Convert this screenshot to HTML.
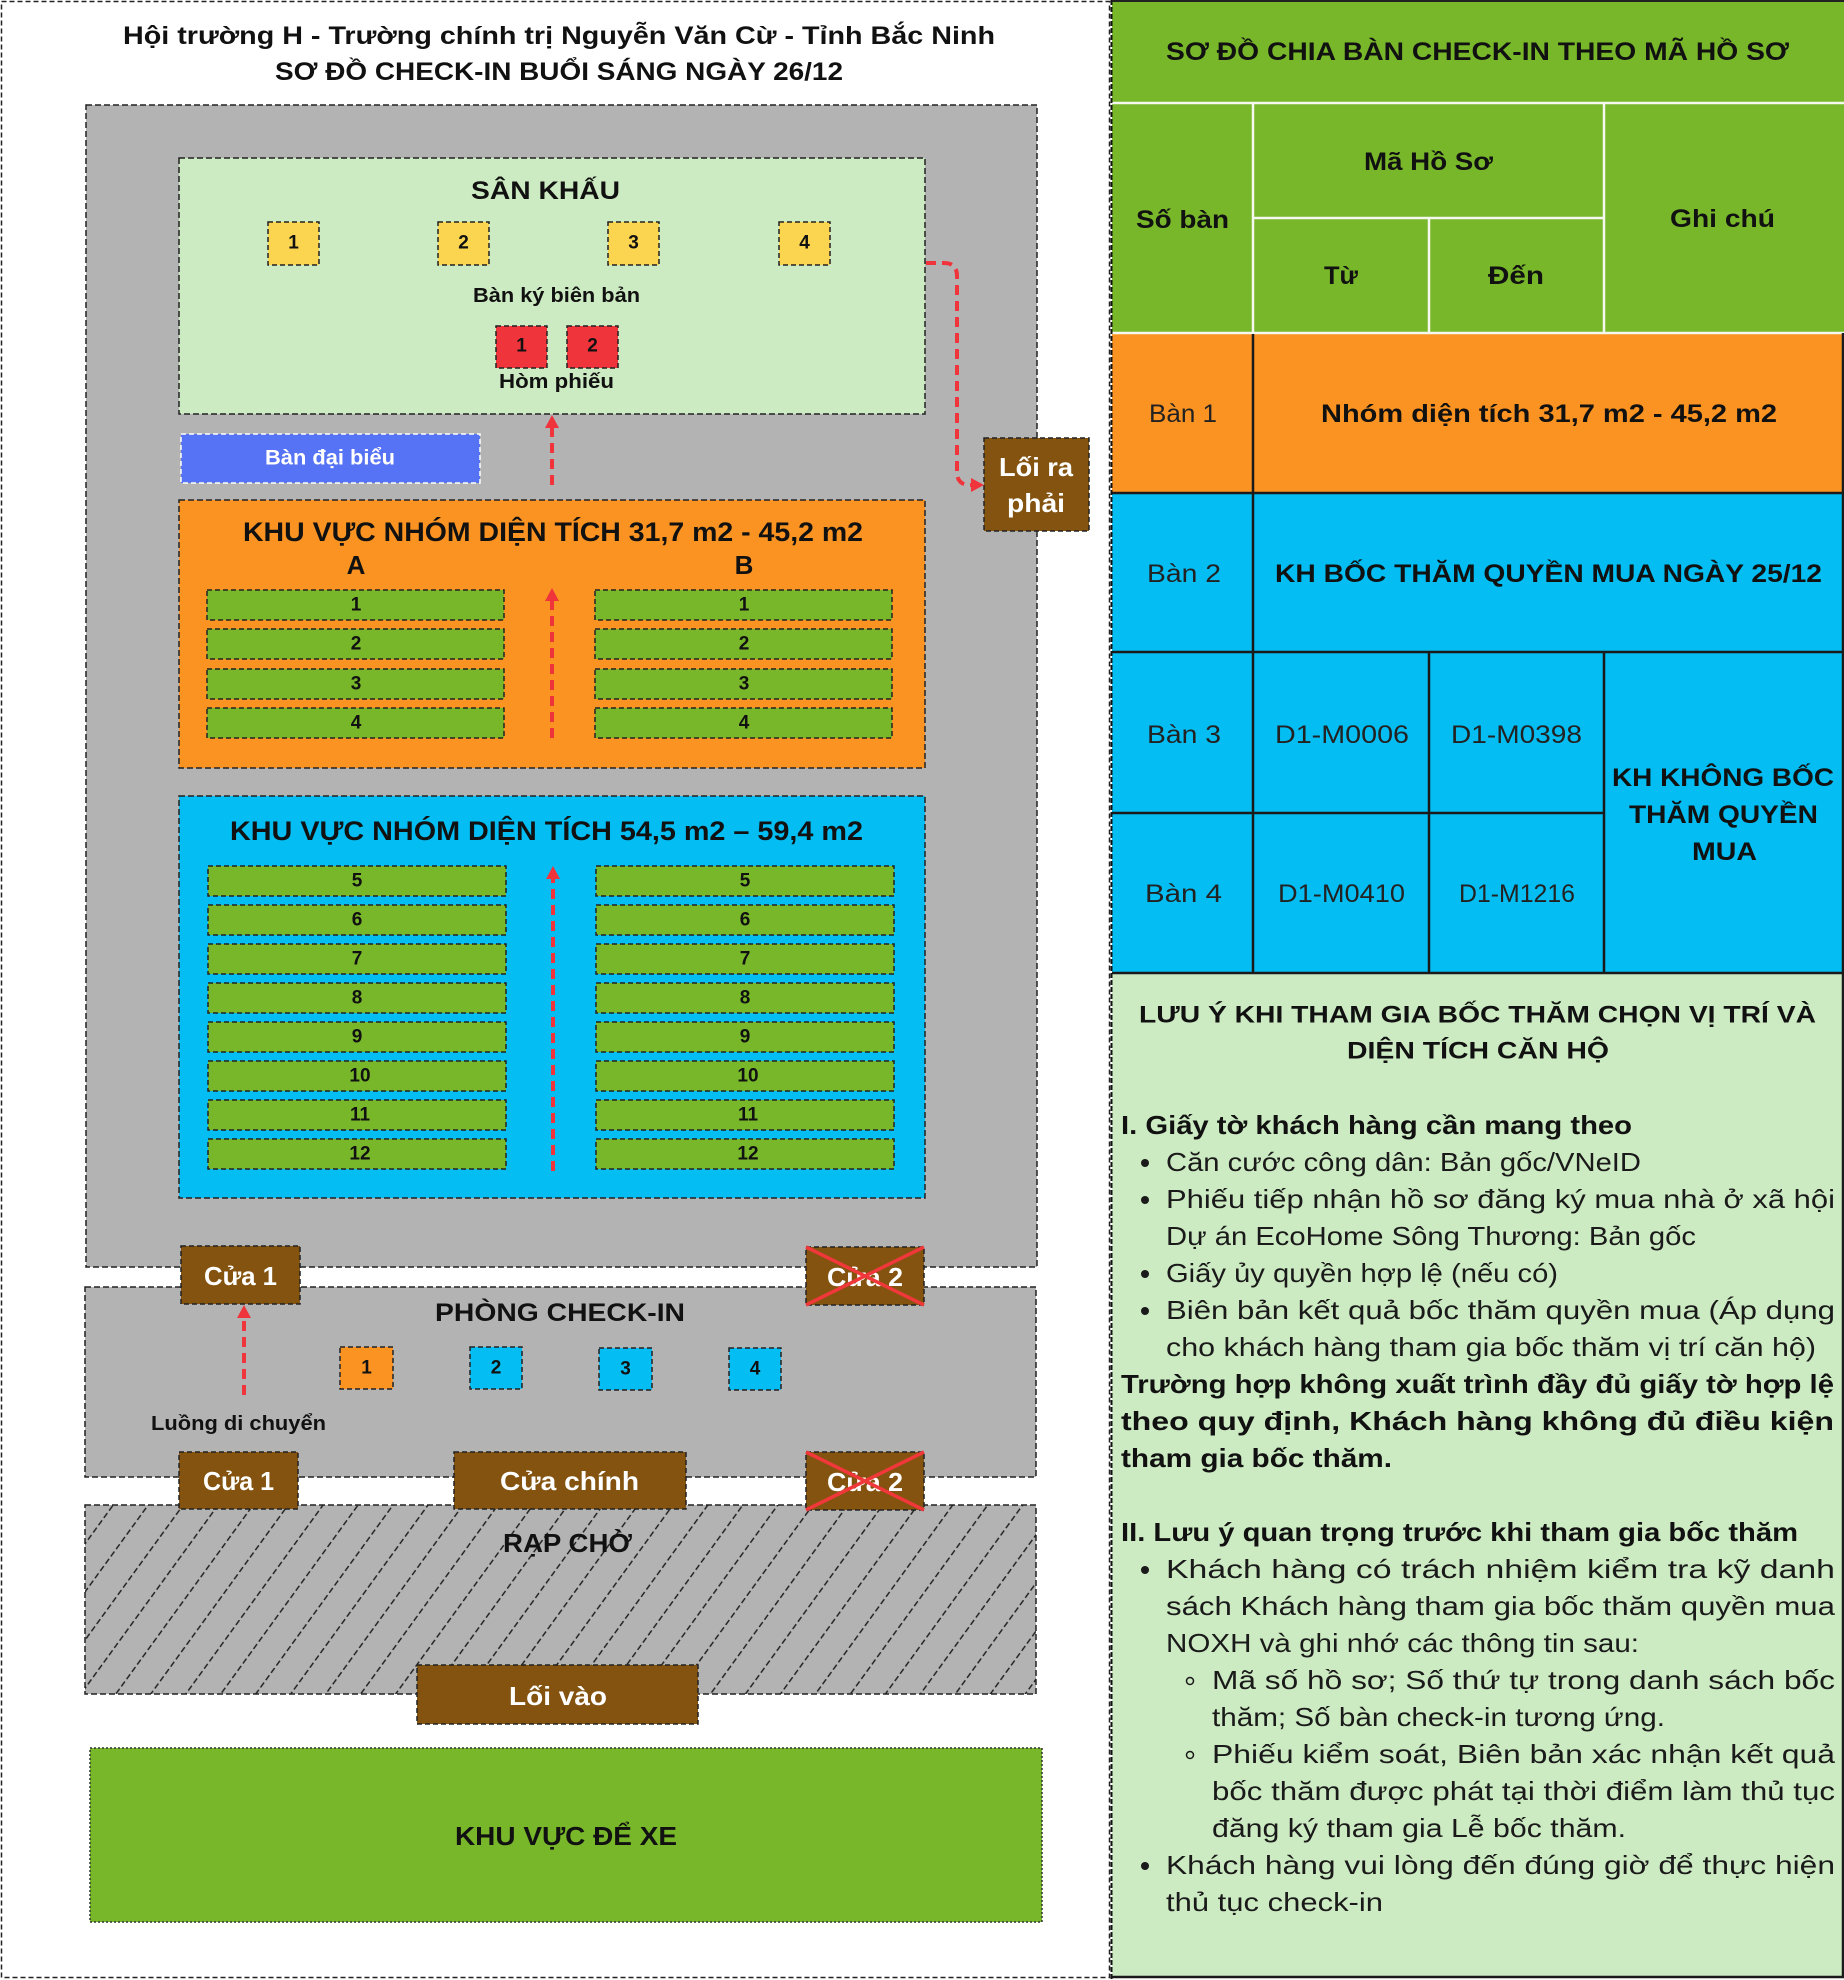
<!DOCTYPE html>
<html><head><meta charset="utf-8"><style>
html,body{margin:0;padding:0;background:#fff;}
svg{display:block;}
text{font-family:"Liberation Sans","DejaVu Sans",sans-serif;}
.b{font-weight:bold;}
</style></head><body>
<svg xmlns="http://www.w3.org/2000/svg" width="1844" height="1980" viewBox="0 0 1844 1980">
<defs>
<pattern id="hatch" patternUnits="userSpaceOnUse" width="28.3" height="18" patternTransform="rotate(36)">
<line x1="14" y1="0" x2="14" y2="18" stroke="#1a1a1a" stroke-width="1.4" stroke-dasharray="6 3"/>
</pattern>
</defs>
<rect x="0" y="0" width="1844" height="1980" fill="#fff"/>
<!-- LEFT PANEL -->
<rect x="1.5" y="1.5" width="1108" height="1976" fill="none" stroke="#222" stroke-width="1.5" stroke-dasharray="5 3"/>
<text class="b" x="123" y="36" font-size="25" dominant-baseline="central" textLength="872" lengthAdjust="spacingAndGlyphs" fill="#111">Hội trường H - Trường chính trị Nguyễn Văn Cừ - Tỉnh Bắc Ninh</text>
<text class="b" x="275" y="72" font-size="25" dominant-baseline="central" textLength="568" lengthAdjust="spacingAndGlyphs" fill="#111">SƠ ĐỒ CHECK-IN BUỔI SÁNG NGÀY 26/12</text>

<!-- Hall -->
<rect x="86" y="105" width="951" height="1162" fill="#b3b3b3" stroke="#222" stroke-width="1.5" stroke-dasharray="6 3"/>
<!-- Stage -->
<rect x="179" y="158" width="746" height="256" fill="#cdebc2" stroke="#222" stroke-width="1.5" stroke-dasharray="6 3"/>
<text class="b" x="471" y="191" font-size="25" dominant-baseline="central" textLength="149" lengthAdjust="spacingAndGlyphs" fill="#111">SÂN KHẤU</text>
<g stroke="#222" stroke-width="1.5" stroke-dasharray="5 3" fill="#fbd54f">
<rect x="268" y="222" width="51" height="43"/>
<rect x="438" y="222" width="51" height="43"/>
<rect x="608" y="222" width="51" height="43"/>
<rect x="779" y="222" width="51" height="43"/>
</g>
<g class="b" font-size="19" text-anchor="middle" dominant-baseline="central" fill="#111">
<text x="293.5" y="243">1</text><text x="463.5" y="243">2</text><text x="633.5" y="243">3</text><text x="804.5" y="243">4</text>
</g>
<text class="b" x="473" y="296" font-size="20" dominant-baseline="central" textLength="167" lengthAdjust="spacingAndGlyphs" fill="#111">Bàn ký biên bản</text>
<g stroke="#222" stroke-width="1.5" stroke-dasharray="5 3" fill="#f0343b">
<rect x="496" y="326" width="51" height="42"/>
<rect x="567" y="326" width="51" height="42"/>
</g>
<g class="b" font-size="19" text-anchor="middle" dominant-baseline="central" fill="#111">
<text x="521.5" y="346">1</text><text x="592.5" y="346">2</text>
</g>
<text class="b" x="499" y="382" font-size="20" dominant-baseline="central" textLength="115" lengthAdjust="spacingAndGlyphs" fill="#111">Hòm phiếu</text>

<!-- Ban dai bieu -->
<rect x="181" y="434" width="299" height="49" fill="#5672f5" stroke="#fff" stroke-width="1.5" stroke-dasharray="5 3"/>
<text class="b" x="265" y="458" font-size="21" dominant-baseline="central" textLength="130" lengthAdjust="spacingAndGlyphs" fill="#fff">Bàn đại biểu</text>

<!-- Loi ra phai -->
<rect x="984" y="438" width="105" height="93" fill="#83530f" stroke="#222" stroke-width="1.5" stroke-dasharray="5 3"/>
<text class="b" x="999" y="467" font-size="26" dominant-baseline="central" textLength="74" lengthAdjust="spacingAndGlyphs" fill="#fff">Lối ra</text>
<text class="b" x="1007" y="503" font-size="26" dominant-baseline="central" textLength="58" lengthAdjust="spacingAndGlyphs" fill="#fff">phải</text>

<!-- Orange area -->
<rect x="179" y="500" width="746" height="268" fill="#fa9322" stroke="#222" stroke-width="1.5" stroke-dasharray="6 3"/>
<text class="b" x="243" y="532" font-size="27" dominant-baseline="central" textLength="620" lengthAdjust="spacingAndGlyphs" fill="#111">KHU VỰC NHÓM DIỆN TÍCH 31,7 m2 - 45,2 m2</text>
<text class="b" x="356" y="565" font-size="26" text-anchor="middle" dominant-baseline="central" fill="#111">A</text>
<text class="b" x="744" y="565" font-size="26" text-anchor="middle" dominant-baseline="central" fill="#111">B</text>
<g stroke="#222" stroke-width="1.5" stroke-dasharray="5 3" fill="#78b72a">
<rect x="207" y="590" width="297" height="30"/><rect x="595" y="590" width="297" height="30"/>
<rect x="207" y="629" width="297" height="30"/><rect x="595" y="629" width="297" height="30"/>
<rect x="207" y="669" width="297" height="30"/><rect x="595" y="669" width="297" height="30"/>
<rect x="207" y="708" width="297" height="30"/><rect x="595" y="708" width="297" height="30"/>
</g>
<g class="b" font-size="19" text-anchor="middle" dominant-baseline="central" fill="#111">
<text x="356" y="605">1</text><text x="744" y="605">1</text>
<text x="356" y="644">2</text><text x="744" y="644">2</text>
<text x="356" y="684">3</text><text x="744" y="684">3</text>
<text x="356" y="723">4</text><text x="744" y="723">4</text>
</g>

<!-- Blue area -->
<rect x="179" y="796" width="746" height="402" fill="#04bdf2" stroke="#222" stroke-width="1.5" stroke-dasharray="6 3"/>
<text class="b" x="230" y="831" font-size="27" dominant-baseline="central" textLength="633" lengthAdjust="spacingAndGlyphs" fill="#111">KHU VỰC NHÓM DIỆN TÍCH 54,5 m2 – 59,4 m2</text>
<g stroke="#222" stroke-width="1.5" stroke-dasharray="5 3" fill="#78b72a">
<rect x="208" y="866" width="298" height="30"/><rect x="596" y="866" width="298" height="30"/>
<rect x="208" y="905" width="298" height="30"/><rect x="596" y="905" width="298" height="30"/>
<rect x="208" y="944" width="298" height="30"/><rect x="596" y="944" width="298" height="30"/>
<rect x="208" y="983" width="298" height="30"/><rect x="596" y="983" width="298" height="30"/>
<rect x="208" y="1022" width="298" height="30"/><rect x="596" y="1022" width="298" height="30"/>
<rect x="208" y="1061" width="298" height="30"/><rect x="596" y="1061" width="298" height="30"/>
<rect x="208" y="1100" width="298" height="30"/><rect x="596" y="1100" width="298" height="30"/>
<rect x="208" y="1139" width="298" height="30"/><rect x="596" y="1139" width="298" height="30"/>
</g>
<g class="b" font-size="19" text-anchor="middle" dominant-baseline="central" fill="#111">
<text x="357" y="881">5</text><text x="745" y="881">5</text>
<text x="357" y="920">6</text><text x="745" y="920">6</text>
<text x="357" y="959">7</text><text x="745" y="959">7</text>
<text x="357" y="998">8</text><text x="745" y="998">8</text>
<text x="357" y="1037">9</text><text x="745" y="1037">9</text>
<text x="360" y="1076">10</text><text x="748" y="1076">10</text>
<text x="360" y="1115">11</text><text x="748" y="1115">11</text>
<text x="360" y="1154">12</text><text x="748" y="1154">12</text>
</g>

<!-- Check-in room -->
<rect x="85" y="1287" width="951" height="190" fill="#b3b3b3" stroke="#222" stroke-width="1.5" stroke-dasharray="6 3"/>
<text class="b" x="435" y="1313" font-size="25" dominant-baseline="central" textLength="250" lengthAdjust="spacingAndGlyphs" fill="#111">PHÒNG CHECK-IN</text>
<g stroke="#222" stroke-width="1.5" stroke-dasharray="5 3">
<rect x="340" y="1347" width="53" height="42" fill="#fa9322"/>
<rect x="470" y="1347" width="52" height="42" fill="#04bdf2"/>
<rect x="599" y="1348" width="53" height="42" fill="#04bdf2"/>
<rect x="729" y="1348" width="52" height="42" fill="#04bdf2"/>
</g>
<g class="b" font-size="19" text-anchor="middle" dominant-baseline="central" fill="#111">
<text x="366.5" y="1368">1</text><text x="496" y="1368">2</text><text x="625.5" y="1369">3</text><text x="755" y="1369">4</text>
</g>
<text class="b" x="151" y="1424" font-size="20" dominant-baseline="central" textLength="175" lengthAdjust="spacingAndGlyphs" fill="#111">Luồng di chuyển</text>

<!-- Rap cho -->
<rect x="85" y="1505" width="951" height="189" fill="#b3b3b3"/>
<rect x="85" y="1505" width="951" height="189" fill="url(#hatch)"/>
<rect x="85" y="1505" width="951" height="189" fill="none" stroke="#222" stroke-width="1.5" stroke-dasharray="6 3"/>
<text class="b" x="503" y="1543" font-size="26" dominant-baseline="central" textLength="129" lengthAdjust="spacingAndGlyphs" fill="#111">RẠP CHỜ</text>

<!-- Doors -->
<g stroke="#222" stroke-width="1.5" stroke-dasharray="5 3" fill="#83530f">
<rect x="181" y="1246" width="119" height="58"/>
<rect x="806" y="1247" width="118" height="58"/>
<rect x="179" y="1452" width="119" height="57"/>
<rect x="454" y="1452" width="232" height="57"/>
<rect x="806" y="1452" width="118" height="58"/>
<rect x="417" y="1665" width="281" height="59"/>
</g>
<g class="b" font-size="26" dominant-baseline="central" fill="#fff">
<text x="204" y="1276" textLength="73" lengthAdjust="spacingAndGlyphs">Cửa 1</text>
<text x="827" y="1277" textLength="76" lengthAdjust="spacingAndGlyphs">Cửa 2</text>
<text x="203" y="1481" textLength="71" lengthAdjust="spacingAndGlyphs">Cửa 1</text>
<text x="500" y="1481" textLength="139" lengthAdjust="spacingAndGlyphs">Cửa chính</text>
<text x="827" y="1482" textLength="76" lengthAdjust="spacingAndGlyphs">Cửa 2</text>
<text x="509" y="1696" textLength="98" lengthAdjust="spacingAndGlyphs">Lối vào</text>
</g>
<g stroke="#f0383a" stroke-width="3.5">
<line x1="806" y1="1247" x2="924" y2="1305"/><line x1="924" y1="1247" x2="806" y2="1305"/>
<line x1="806" y1="1452" x2="924" y2="1510"/><line x1="924" y1="1452" x2="806" y2="1510"/>
</g>

<!-- Parking -->
<rect x="90" y="1748" width="952" height="174" fill="#78b72a" stroke="#333" stroke-width="1.5" stroke-dasharray="2 2"/>
<text class="b" x="455" y="1836" font-size="26" dominant-baseline="central" textLength="222" lengthAdjust="spacingAndGlyphs" fill="#111">KHU VỰC ĐỂ XE</text>

<!-- Red arrows -->
<g stroke="#f0343b" stroke-width="4" stroke-dasharray="10 6" fill="none">
<line x1="552" y1="485" x2="552" y2="426"/>
<line x1="552" y1="738" x2="552" y2="599"/>
<line x1="553" y1="1171" x2="553" y2="877"/>
<line x1="244" y1="1395" x2="244" y2="1316"/>
<path d="M926,263 H944 Q957,263 957,276 V472 Q957,485 970,485 H973"/>
</g>
<g fill="#f0343b">
<polygon points="552,415 545,428 559,428"/>
<polygon points="552,588 545,601 559,601"/>
<polygon points="553,866 546,879 560,879"/>
<polygon points="244,1305 237,1318 251,1318"/>
<polygon points="984,485 971,478 971,492"/>
</g>

<!-- RIGHT PANEL -->
<rect x="1112" y="0" width="732" height="333" fill="#78b72a"/>
<rect x="1112" y="333" width="732" height="160" fill="#fa9322"/>
<rect x="1112" y="493" width="732" height="480" fill="#04bdf2"/>
<rect x="1112" y="973" width="732" height="1005" fill="#cdebc2"/>
<!-- header white lines -->
<g stroke="#f4f8ee" stroke-width="2.5">
<line x1="1112" y1="103" x2="1844" y2="103"/>
<line x1="1253" y1="103" x2="1253" y2="333"/>
<line x1="1604" y1="103" x2="1604" y2="333"/>
<line x1="1253" y1="218" x2="1604" y2="218"/>
<line x1="1429" y1="218" x2="1429" y2="333"/>
<line x1="1112" y1="333" x2="1844" y2="333"/>
</g>
<!-- dark lines -->
<g stroke="#1a1a1a" stroke-width="2.5">
<line x1="1253" y1="334" x2="1253" y2="973"/>
<line x1="1112" y1="493" x2="1844" y2="493"/>
<line x1="1112" y1="652" x2="1844" y2="652"/>
<line x1="1112" y1="813" x2="1604" y2="813"/>
<line x1="1429" y1="652" x2="1429" y2="973"/>
<line x1="1604" y1="652" x2="1604" y2="973"/>
<line x1="1112" y1="973" x2="1844" y2="973"/>
<line x1="1112" y1="1977" x2="1844" y2="1977"/>
<line x1="1843" y1="333" x2="1843" y2="1978"/>
</g>
<line x1="1111.5" y1="0" x2="1111.5" y2="1980" stroke="#111" stroke-width="2" stroke-dasharray="5 2"/>
<line x1="1112" y1="1" x2="1844" y2="1" stroke="#222" stroke-width="2"/>

<g class="b" font-size="25" dominant-baseline="central" fill="#111">
<text x="1166" y="52" textLength="623" lengthAdjust="spacingAndGlyphs">SƠ ĐỒ CHIA BÀN CHECK-IN THEO MÃ HỒ SƠ</text>
<text x="1364" y="162" textLength="129" lengthAdjust="spacingAndGlyphs">Mã Hồ Sơ</text>
<text x="1136" y="220" textLength="93" lengthAdjust="spacingAndGlyphs">Số bàn</text>
<text x="1670" y="219" textLength="105" lengthAdjust="spacingAndGlyphs">Ghi chú</text>
<text x="1324" y="276" textLength="34" lengthAdjust="spacingAndGlyphs">Từ</text>
<text x="1488" y="276" textLength="56" lengthAdjust="spacingAndGlyphs">Đến</text>
<text x="1321" y="414" textLength="456" lengthAdjust="spacingAndGlyphs">Nhóm diện tích 31,7 m2 - 45,2 m2</text>
<text x="1275" y="574" textLength="547" lengthAdjust="spacingAndGlyphs">KH BỐC THĂM QUYỀN MUA NGÀY 25/12</text>
<text x="1612" y="778" textLength="222" lengthAdjust="spacingAndGlyphs">KH KHÔNG BỐC</text>
<text x="1629" y="815" textLength="189" lengthAdjust="spacingAndGlyphs">THĂM QUYỀN</text>
<text x="1692" y="852" textLength="65" lengthAdjust="spacingAndGlyphs">MUA</text>
</g>
<g font-size="25" dominant-baseline="central" fill="#222">
<text x="1149" y="414" textLength="68" lengthAdjust="spacingAndGlyphs">Bàn 1</text>
<text x="1147" y="574" textLength="74" lengthAdjust="spacingAndGlyphs">Bàn 2</text>
<text x="1147" y="735" textLength="74" lengthAdjust="spacingAndGlyphs">Bàn 3</text>
<text x="1275" y="735" textLength="134" lengthAdjust="spacingAndGlyphs">D1-M0006</text>
<text x="1451" y="735" textLength="131" lengthAdjust="spacingAndGlyphs">D1-M0398</text>
<text x="1145" y="894" textLength="77" lengthAdjust="spacingAndGlyphs">Bàn 4</text>
<text x="1278" y="894" textLength="127" lengthAdjust="spacingAndGlyphs">D1-M0410</text>
<text x="1459" y="894" textLength="116" lengthAdjust="spacingAndGlyphs">D1-M1216</text>
</g>

<!-- Notes -->
<g class="b" font-size="24" dominant-baseline="central" fill="#111">
<text x="1139" y="1015" textLength="677" lengthAdjust="spacingAndGlyphs">LƯU Ý KHI THAM GIA BỐC THĂM CHỌN VỊ TRÍ VÀ</text>
<text x="1347" y="1051" textLength="262" lengthAdjust="spacingAndGlyphs">DIỆN TÍCH CĂN HỘ</text>
</g>
<g class="b" font-size="26" dominant-baseline="central" fill="#111">
<text x="1121" y="1125" textLength="511" lengthAdjust="spacingAndGlyphs">I. Giấy tờ khách hàng cần mang theo</text>
<text x="1121" y="1384" textLength="713" lengthAdjust="spacingAndGlyphs">Trường hợp không xuất trình đầy đủ giấy tờ hợp lệ</text>
<text x="1121" y="1421" textLength="713" lengthAdjust="spacingAndGlyphs">theo quy định, Khách hàng không đủ điều kiện</text>
<text x="1121" y="1458" textLength="271" lengthAdjust="spacingAndGlyphs">tham gia bốc thăm.</text>
<text x="1121" y="1532" textLength="677" lengthAdjust="spacingAndGlyphs">II. Lưu ý quan trọng trước khi tham gia bốc thăm</text>
</g>
<g font-size="26" dominant-baseline="central" fill="#1a1a1a">
<text x="1166" y="1162" textLength="475" lengthAdjust="spacingAndGlyphs">Căn cước công dân: Bản gốc/VNeID</text>
<text x="1166" y="1199" textLength="669" lengthAdjust="spacingAndGlyphs">Phiếu tiếp nhận hồ sơ đăng ký mua nhà ở xã hội</text>
<text x="1166" y="1236" textLength="530" lengthAdjust="spacingAndGlyphs">Dự án EcoHome Sông Thương: Bản gốc</text>
<text x="1166" y="1273" textLength="392" lengthAdjust="spacingAndGlyphs">Giấy ủy quyền hợp lệ (nếu có)</text>
<text x="1166" y="1310" textLength="669" lengthAdjust="spacingAndGlyphs">Biên bản kết quả bốc thăm quyền mua (Áp dụng</text>
<text x="1166" y="1347" textLength="650" lengthAdjust="spacingAndGlyphs">cho khách hàng tham gia bốc thăm vị trí căn hộ)</text>
<text x="1166" y="1569" textLength="669" lengthAdjust="spacingAndGlyphs">Khách hàng có trách nhiệm kiểm tra kỹ danh</text>
<text x="1166" y="1606" textLength="669" lengthAdjust="spacingAndGlyphs">sách Khách hàng tham gia bốc thăm quyền mua</text>
<text x="1166" y="1643" textLength="473" lengthAdjust="spacingAndGlyphs">NOXH và ghi nhớ các thông tin sau:</text>
<text x="1212" y="1680" textLength="623" lengthAdjust="spacingAndGlyphs">Mã số hồ sơ; Số thứ tự trong danh sách bốc</text>
<text x="1212" y="1717" textLength="453" lengthAdjust="spacingAndGlyphs">thăm; Số bàn check-in tương ứng.</text>
<text x="1212" y="1754" textLength="623" lengthAdjust="spacingAndGlyphs">Phiếu kiểm soát, Biên bản xác nhận kết quả</text>
<text x="1212" y="1791" textLength="623" lengthAdjust="spacingAndGlyphs">bốc thăm được phát tại thời điểm làm thủ tục</text>
<text x="1212" y="1828" textLength="414" lengthAdjust="spacingAndGlyphs">đăng ký tham gia Lễ bốc thăm.</text>
<text x="1166" y="1865" textLength="669" lengthAdjust="spacingAndGlyphs">Khách hàng vui lòng đến đúng giờ để thực hiện</text>
<text x="1166" y="1902" textLength="217" lengthAdjust="spacingAndGlyphs">thủ tục check-in</text>
</g>
<g fill="#1a1a1a">
<circle cx="1145" cy="1163" r="4"/>
<circle cx="1145" cy="1200" r="4"/>
<circle cx="1145" cy="1274" r="4"/>
<circle cx="1145" cy="1311" r="4"/>
<circle cx="1145" cy="1570" r="4"/>
<circle cx="1145" cy="1866" r="4"/>
</g>
<g fill="none" stroke="#1a1a1a" stroke-width="1.5">
<circle cx="1190" cy="1681" r="3.5"/>
<circle cx="1190" cy="1755" r="3.5"/>
</g>
</svg>
</body></html>
